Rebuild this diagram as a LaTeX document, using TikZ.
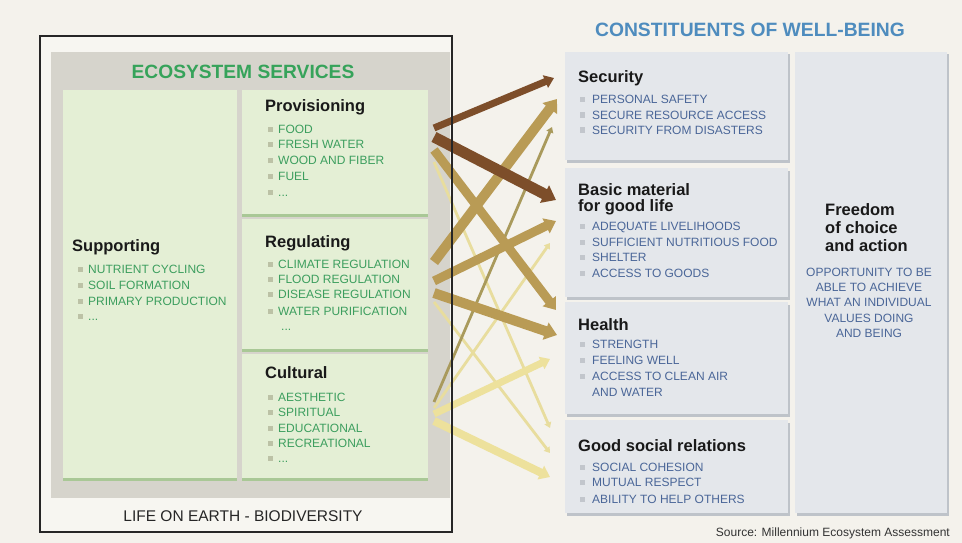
\documentclass[tikz,border=0pt]{standalone}
\usepackage{fontspec}
\setmainfont{Liberation Sans}
\usetikzlibrary{arrows.meta,shadows}
\definecolor{bgc}{HTML}{F4F2EC}
\definecolor{framein}{HTML}{F7F6F1}
\definecolor{grayband}{HTML}{D6D4CC}
\definecolor{boxG}{HTML}{E4EFD5}
\definecolor{boxGd}{HTML}{A9C896}
\definecolor{boxB}{HTML}{E4E7EB}
\definecolor{boxBd}{HTML}{BEC3C9}
\definecolor{txtG}{HTML}{3C9E5E}
\definecolor{ttlG}{HTML}{36A35A}
\definecolor{txtB}{HTML}{4A6698}
\definecolor{ttlB}{HTML}{4E8CBE}
\definecolor{bulG}{HTML}{BCC2A6}
\definecolor{bulB}{HTML}{C2C6CC}
\definecolor{brownA}{HTML}{7D4E2A}
\definecolor{goldA}{HTML}{B99B55}
\definecolor{oliveA}{HTML}{A99A5C}
\definecolor{lightA}{HTML}{EDE19C}
\definecolor{paleA}{HTML}{E8DD9E}
\newcommand{\bulG}{{\color{bulG}\rule[1.5pt]{5pt}{5pt}}\hspace{5pt}}
\newcommand{\bulB}{{\color{bulB}\rule[1.5pt]{5pt}{5pt}}\hspace{7pt}}
\tikzset{
  gbox/.style={fill=boxG, draw=none, inner sep=0pt, outer sep=0pt, anchor=north west,
    drop shadow={shadow xshift=0pt, shadow yshift=-2.5pt, fill=boxGd, opacity=1}},
  bbox/.style={fill=boxB, draw=none, inner sep=0pt, outer sep=0pt, anchor=north west,
    drop shadow={shadow xshift=1.5pt, shadow yshift=-2.5pt, fill=boxBd, opacity=1}},
  ttl/.style={anchor=base west, inner sep=0pt, font=\fontsize{16.5}{18}\selectfont\bfseries, text=black!90},
  itG/.style={anchor=base west, inner sep=0pt, font=\fontsize{12}{14}\selectfont, text=txtG},
  itB/.style={anchor=base west, inner sep=0pt, font=\fontsize{12}{14}\selectfont, text=txtB},
  flow/.style={line width=#1, line cap=butt, -{Triangle[width=3pt 1.45, length=3pt 0.9]}},
}
\begin{document}
\begin{tikzpicture}[x=1pt,y=-1pt]
\useasboundingbox (0,0) rectangle (962,543);
\fill[bgc] (0,0) rectangle (962,543);

% left frame and gray band
\node[fill=framein, inner sep=0pt, outer sep=0pt, anchor=north west, minimum width=412pt, minimum height=496pt] (frame) at (40,36) {};
\node[fill=grayband, inner sep=0pt, outer sep=0pt, anchor=north west, minimum width=399pt, minimum height=446pt] (band) at (51,52) {};
\node[anchor=base, inner sep=0pt, font=\fontsize{19.2}{21}\selectfont\bfseries, text=ttlG] (esTitle) at (243,78) {ECOSYSTEM SERVICES};
\node[anchor=base, inner sep=0pt, font=\fontsize{15.5}{17}\selectfont, text=black!85] (life) at (243,521) {LIFE ON EARTH - BIODIVERSITY};

% service boxes
\node[gbox, minimum width=174pt, minimum height=388pt] (sup) at (63,90) {};
\node[gbox, minimum width=186pt, minimum height=124pt] (prov) at (242,90) {};
\node[gbox, minimum width=186pt, minimum height=130pt] (reg) at (242,219) {};
\node[gbox, minimum width=186pt, minimum height=124pt] (cult) at (242,354) {};

% supporting
\node[ttl] (supT) at (72,251) {Supporting};
\node[itG] (sup1) at (78,273) {\bulG NUTRIENT CYCLING};
\node[itG] (sup2) at (78,289) {\bulG SOIL FORMATION};
\node[itG] (sup3) at (78,305) {\bulG PRIMARY PRODUCTION};
\node[itG] (sup4) at (78,320) {\bulG ...};
% provisioning
\node[ttl] (provT) at (265,112) {Provisioning};
\node[itG] (prov1) at (268,133) {\bulG FOOD};
\node[itG] (prov2) at (268,148.5) {\bulG FRESH WATER};
\node[itG] (prov3) at (268,164.5) {\bulG WOOD AND FIBER};
\node[itG] (prov4) at (268,180) {\bulG FUEL};
\node[itG] (prov5) at (268,196) {\bulG ...};
% regulating
\node[ttl] (regT) at (265,247) {Regulating};
\node[itG] (reg1) at (268,268) {\bulG CLIMATE REGULATION};
\node[itG] (reg2) at (268,283) {\bulG FLOOD REGULATION};
\node[itG] (reg3) at (268,298.5) {\bulG DISEASE REGULATION};
\node[itG] (reg4) at (268,315) {\bulG WATER PURIFICATION};
\node[itG] (reg5) at (281,330) {...};
% cultural
\node[ttl] (cultT) at (265,378) {Cultural};
\node[itG] (cult1) at (268,401) {\bulG AESTHETIC};
\node[itG] (cult2) at (268,416) {\bulG SPIRITUAL};
\node[itG] (cult3) at (268,432) {\bulG EDUCATIONAL};
\node[itG] (cult4) at (268,447) {\bulG RECREATIONAL};
\node[itG] (cult5) at (268,462) {\bulG ...};

% arrow end points
\coordinate (P1) at (434,128); \coordinate (P2) at (434,137); \coordinate (P3) at (434,150); \coordinate (P4) at (434,162);
\coordinate (R1) at (434,262); \coordinate (R2) at (434,281); \coordinate (R3) at (434,293); \coordinate (R4) at (434,302);
\coordinate (C1) at (434,402); \coordinate (C2) at (434,408); \coordinate (C3) at (434,414); \coordinate (C4) at (434,421);
\coordinate (S1) at (554,78);  \coordinate (S2) at (557,99);  \coordinate (S3) at (552,127);
\coordinate (B1) at (556,200); \coordinate (B2) at (556,221); \coordinate (B3) at (550,243);
\coordinate (H1) at (556,310); \coordinate (H2) at (557,335); \coordinate (H3) at (550,359);
\coordinate (G1) at (550,428); \coordinate (G2) at (550,453); \coordinate (G3) at (550,477);

% arrows: pale first
\draw[flow=2.8pt, paleA] (P4) -- (G1);
\draw[flow=2.8pt, paleA] (R4) -- (G2);
\draw[flow=2.8pt, paleA] (C2) -- (B3);
\draw[flow=7pt, lightA] (C3) -- (H3);
\draw[flow=8pt, lightA] (C4) -- (G3);
\draw[flow=2.8pt, oliveA] (C1) -- (S3);
\draw[flow=9pt, goldA] (R2) -- (B2);
\draw[flow=10pt, goldA] (R3) -- (H2);
\draw[flow=9pt, goldA] (P3) -- (H1);
\draw[flow=10pt, goldA] (R1) -- (S2);
\draw[flow=11pt, brownA] (P2) -- (B1);
\draw[flow=7pt, brownA] (P1) -- (S1);

% frame line on top
\draw[line width=1.4pt, black!85] (frame.south west) rectangle (frame.north east);

% right side
\node[anchor=base, inner sep=0pt, font=\fontsize{19.3}{21}\selectfont\bfseries, text=ttlB] (cwTitle) at (750,37) {CONSTITUENTS OF WELL-BEING};
\node[bbox, minimum width=223pt, minimum height=108pt] (sec) at (565,52) {};
\node[bbox, minimum width=223pt, minimum height=129pt] (basic) at (565,168) {};
\node[bbox, minimum width=223pt, minimum height=112pt] (health) at (565,302) {};
\node[bbox, minimum width=223pt, minimum height=93pt] (social) at (565,420) {};
\node[bbox, minimum width=152pt, minimum height=461pt] (free) at (795,52) {};

\node[ttl] (secT) at (578,82) {Security};
\node[itB] (sec1) at (580,103) {\bulB PERSONAL SAFETY};
\node[itB] (sec2) at (580,119) {\bulB SECURE RESOURCE ACCESS};
\node[itB] (sec3) at (580,134) {\bulB SECURITY FROM DISASTERS};

\node[ttl] (basT1) at (578,195) {Basic material};
\node[ttl] (basT2) at (578,211) {for good life};
\node[itB] (bas1) at (580,230) {\bulB ADEQUATE LIVELIHOODS};
\node[itB] (bas2) at (580,246) {\bulB SUFFICIENT NUTRITIOUS FOOD};
\node[itB] (bas3) at (580,261) {\bulB SHELTER};
\node[itB] (bas4) at (580,277) {\bulB ACCESS TO GOODS};

\node[ttl] (heaT) at (578,330) {Health};
\node[itB] (hea1) at (580,348) {\bulB STRENGTH};
\node[itB] (hea2) at (580,364) {\bulB FEELING WELL};
\node[itB] (hea3) at (580,380) {\bulB ACCESS TO CLEAN AIR};
\node[itB] (hea4) at (592,396) {AND WATER};

\node[ttl] (socT) at (578,451) {Good social relations};
\node[itB] (soc1) at (580,471) {\bulB SOCIAL COHESION};
\node[itB] (soc2) at (580,486.5) {\bulB MUTUAL RESPECT};
\node[itB] (soc3) at (580,503) {\bulB ABILITY TO HELP OTHERS};

\node[ttl] (frT1) at (825,215) {Freedom};
\node[ttl] (frT2) at (825,233) {of choice};
\node[ttl] (frT3) at (825,251) {and action};
\node[itB, anchor=base] (fr1) at (869,276) {OPPORTUNITY TO BE};
\node[itB, anchor=base] (fr2) at (869,291) {ABLE TO ACHIEVE};
\node[itB, anchor=base] (fr3) at (869,306) {WHAT AN INDIVIDUAL};
\node[itB, anchor=base] (fr4) at (869,322) {VALUES DOING};
\node[itB, anchor=base] (fr5) at (869,337) {AND BEING};

\node[anchor=base east, inner sep=0pt, font=\fontsize{12}{14}\selectfont, text=black!80] (src) at (950,536) {Source: Millennium Ecosystem Assessment};
\end{tikzpicture}
\end{document}
